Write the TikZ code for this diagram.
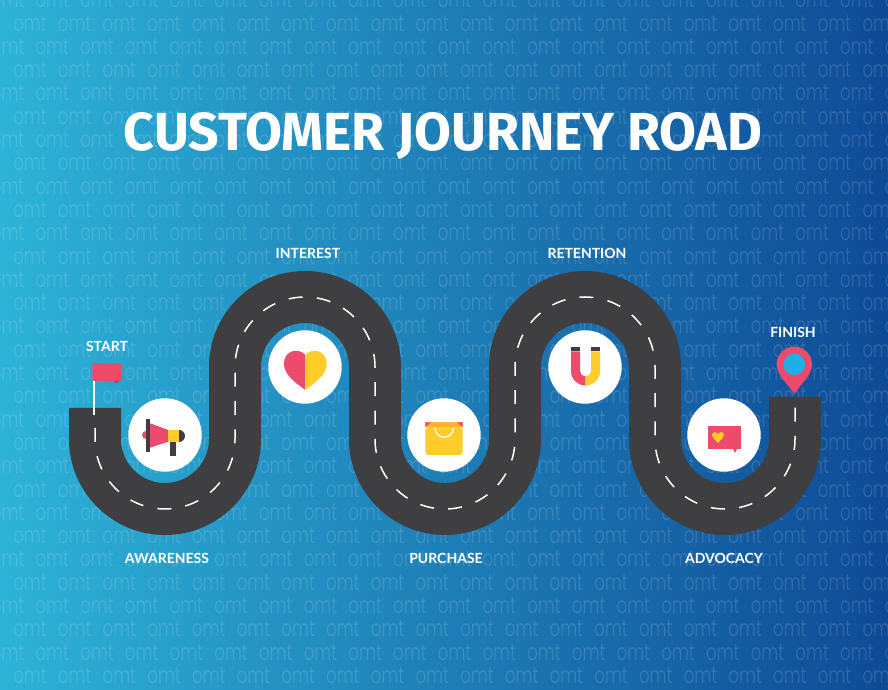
\documentclass[tikz,border=0pt]{standalone}
\usepackage{fontspec}
\setmainfont{Lato}
\newfontfamily\omtfont[FakeStretch=0.72]{Poppins Light}
\newfontfamily\titlefont{Fira Sans}
\definecolor{roadgray}{HTML}{3F3E40}
\definecolor{iconred}{HTML}{EE4A6C}
\definecolor{iconyellow}{HTML}{FFCC29}
\definecolor{iconorange}{HTML}{FBB03B}
\definecolor{pinblue}{HTML}{1EAEE8}
\definecolor{bgleft}{HTML}{2DB3D8}
\definecolor{bgmid}{HTML}{2389BF}
\definecolor{bgright}{HTML}{0E4A96}
\tikzset{
  stage/.style={font=\bfseries\fontsize{14}{14}\selectfont, text=white, inner sep=0pt},
  stop/.style={fill=white},
  watermark/.style={font=\omtfont\fontsize{23}{23}\selectfont, text=white, text opacity=0.15, inner sep=0pt},
}
\begin{document}
\begin{tikzpicture}[x=1pt, y=1pt]

    \def\R{70pt}
    \useasboundingbox (0,0) rectangle (888,690);

    % background
    \shade[left color=bgleft, middle color=bgmid, right color=bgright]
        (0,0) rectangle (888,690);

    % repeating letters
    \foreach \r in {0,...,29}{
        \foreach \c in {0,...,20}{
            \pgfmathsetmacro{\px}{7.6+44.7*\c+22.4*mod(\r,2)}
            \pgfmathsetmacro{\py}{690-23.3*\r}
            \node[watermark] (omt-\r-\c) at (\px,\py) {omt};
        }
    }

    % road
    \draw[roadgray, line width=52pt]
        (95,282) -- (95,251)
        arc[start angle=180, end angle=360, radius=\R]
        -- (235,323)
        arc[start angle=180, end angle=0, radius=\R]
        -- (375,251)
        arc[start angle=180, end angle=360, radius=\R]
        -- (515,323)
        arc[start angle=180, end angle=0, radius=\R]
        -- (655,251)
        arc[start angle=180, end angle=360, radius=\R]
        -- (795,293);

    % dashes
    \draw[white, line width=1.5pt, dash pattern=on 14pt off 14.32pt]
        (95,262) -- (95,251)
        arc[start angle=180, end angle=360, radius=\R]
        -- (235,323)
        arc[start angle=180, end angle=0, radius=\R]
        -- (375,251)
        arc[start angle=180, end angle=360, radius=\R]
        -- (515,323)
        arc[start angle=180, end angle=0, radius=\R]
        -- (655,251)
        arc[start angle=180, end angle=360, radius=\R]
        -- (795,293);

    % circles
    \foreach \x/\y in {165/255, 305/323, 444/255, 585/323, 724/255}{
        \fill[stop] (\x,\y) circle (36.7);
    }

    % flag
    \draw[white, line width=2pt] (93.7,309) -- (93.7,275);
    \fill[iconred, rounded corners=1pt]
        (92.3,326.7) -- (122,326.7) -- (122,309) -- (92.3,309) -- cycle;
    \fill[iconred!80!black] (114,309) -- (120,309) -- (115,306.5) -- cycle;

    % pin
    \fill[iconred]
        (794.3,296)
        .. controls (788,306) and (776.6,315) .. (776.6,325.7)
        arc[start angle=180, end angle=0, radius=17.7]
        .. controls (812,315) and (800.6,306) .. (794.3,296) -- cycle;
    \fill[pinblue] (794.3,325.7) circle (10.7);

    % megaphone
    \fill[iconred] (146,255) circle (4);
    \fill[iconred] (150,266.7) -- (168.3,260) -- (168.3,248.3) -- (150,242.3) -- cycle;
    \fill[roadgray] (146.3,238.3) rectangle (150,271);
    \fill[roadgray] (170.3,234) rectangle (176,248.3);
    \fill[roadgray] (179,260) arc[start angle=90, end angle=-90, radius=6] -- cycle;
    \fill[iconyellow] (168.3,248.3) rectangle (179,260);

    % heart
    \fill[iconred]
        (305.3,335)
        .. controls (300,342) and (284,341) .. (284,326)
        .. controls (284,315) and (296,307) .. (305.3,300) -- cycle;
    \fill[iconyellow]
        (305.3,335)
        .. controls (310.6,342) and (326.7,341) .. (326.7,326)
        .. controls (326.7,315) and (314.6,307) .. (305.3,300) -- cycle;

    % bag
    \fill[iconyellow, rounded corners=3pt]
        (425.3,263) -- (425.3,235) -- (462.7,235) -- (462.7,263) -- cycle;
    \fill[iconorange] (425.3,267.7) rectangle (462.7,263);
    \fill[iconred] (425.3,267.7) -- (431,267.7) -- (425.3,263) -- cycle;
    \fill[iconred] (462.7,267.7) -- (457,267.7) -- (462.7,263) -- cycle;
    \draw[white, line width=1.3pt] (435,262) arc[start angle=180, end angle=360, radius=9.2];

    % magnet
    \fill[iconred]
        (571,338.7) -- (571,319) arc[start angle=180, end angle=270, radius=14.5]
        -- (585.5,313.5) arc[start angle=270, end angle=180, radius=5.5]
        -- (580,338.7) -- cycle;
    \fill[iconyellow]
        (600,338.7) -- (600,319) arc[start angle=0, end angle=-90, radius=14.5]
        -- (585.5,313.5) arc[start angle=270, end angle=360, radius=5.5]
        -- (591,338.7) -- cycle;
    \fill[roadgray] (571,338.7) rectangle (580,343);
    \fill[roadgray] (591,338.7) rectangle (600,343);

    % speech box
    \fill[iconred] (707.7,240.7) rectangle (740.7,264.3);
    \fill[iconred] (733,241) -- (737,241) -- (735,237) -- cycle;
    \fill[iconyellow]
        (718,247)
        .. controls (714,251) and (712,253) .. (712,255)
        .. controls (712,258.5) and (716.5,258.5) .. (718,256)
        .. controls (719.5,258.5) and (724,258.5) .. (724,255)
        .. controls (724,253) and (722,251) .. (718,247) -- cycle;

    % labels
    \node[font=\titlefont\bfseries\fontsize{53.5}{53.5}\selectfont, text=white, inner sep=0pt] (title) at (443,553.5) {CUSTOMER JOURNEY ROAD};
    \node[stage] (start) at (107,344) {START};
    \node[stage] (interest) at (308,437) {INTEREST};
    \node[stage] (retention) at (587,437) {RETENTION};
    \node[stage] (awareness) at (167,132) {AWARENESS};
    \node[stage] (purchase) at (446,132) {PURCHASE};
    \node[stage] (advocacy) at (724,132) {ADVOCACY};
    \node[stage] (finish) at (793,358) {FINISH};
\end{tikzpicture}
\end{document}
